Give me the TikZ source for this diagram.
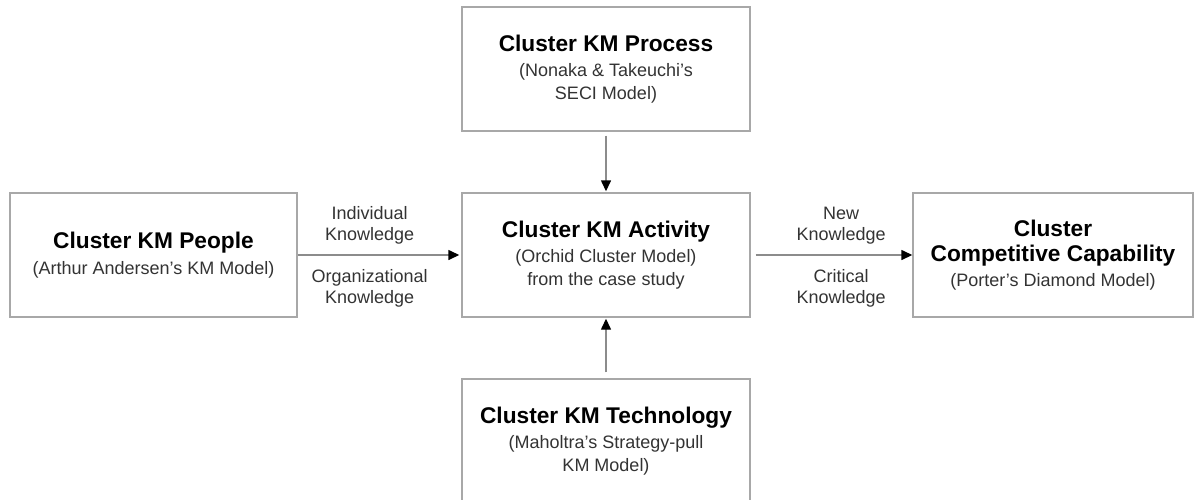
\documentclass[tikz,border=0pt]{standalone}
\usepackage{fontspec}
\setmainfont{Liberation Sans}
\usetikzlibrary{arrows.meta}
\definecolor{boxline}{HTML}{A8A8A8}
\definecolor{arrowline}{HTML}{8C8C8C}
\definecolor{subtext}{HTML}{333333}
\tikzset{
  kmbox/.style={draw=boxline, line width=1.4pt, fill=white, inner sep=0pt,
    align=center, text=subtext, font=\fontsize{18}{23.5}\selectfont},
  flow/.style={draw=arrowline, line width=1.4pt,
    -{Triangle[length=11pt,width=10pt,fill=black,color=black]}},
  flowlabel/.style={align=center, text=subtext, inner sep=0pt,
    font=\fontsize{18}{21}\selectfont},
}
\newcommand{\boxtitle}[1]{{\color{black}\fontsize{22.7}{24}\selectfont\bfseries #1}}
\begin{document}
\begin{tikzpicture}[x=1pt,y=-1pt]
\useasboundingbox (0,0) rectangle (1196,499);

\node[kmbox, minimum width=288pt, minimum height=124pt] (process) at (606,69)
  {\boxtitle{Cluster KM Process}\\[1.5pt](Nonaka \& Takeuchi's\\SECI Model)};
\node[kmbox, minimum width=288pt, minimum height=124pt] (activity) at (606,255)
  {\boxtitle{Cluster KM Activity}\\[1.5pt](Orchid Cluster Model)\\from the case study};
\node[kmbox, minimum width=287pt, minimum height=124pt] (people) at (153.5,255)
  {\boxtitle{Cluster KM People}\\[2pt](Arthur Andersen's KM Model)};
\node[kmbox, minimum width=280pt, minimum height=124pt] (capability) at (1053,255)
  {\boxtitle{Cluster}\\[2pt]\boxtitle{Competitive Capability}\\[1pt](Porter's Diamond Model)};
\node[kmbox, minimum width=288pt, minimum height=124pt] (technology) at (606,441)
  {\boxtitle{Cluster KM Technology}\\[1.5pt](Maholtra's Strategy-pull\\KM Model)};

\draw[flow, shorten <=4pt, shorten >=1pt] (process) -- (activity);
\draw[flow, shorten <=6pt, shorten >=1pt] (technology) -- (activity);
\draw[flow, shorten >=2pt] (people) -- (activity)
  node[flowlabel, pos=0.44, above=10pt] (indiv) {Individual\\Knowledge}
  node[flowlabel, pos=0.44, below=14pt] (org) {Organizational\\Knowledge};
\draw[flow, shorten <=5pt] (activity) -- (capability)
  node[flowlabel, pos=0.56, above=10pt] (newk) {New\\Knowledge}
  node[flowlabel, pos=0.56, below=14pt] (crit) {Critical\\Knowledge};
\end{tikzpicture}
\end{document}
